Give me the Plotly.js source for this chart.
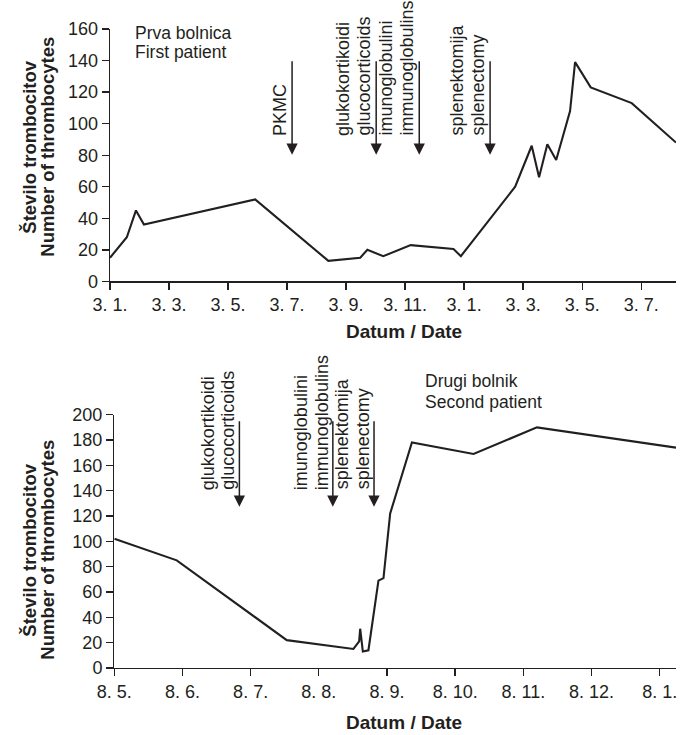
<!DOCTYPE html>
<html>
<head>
<meta charset="utf-8">
<script src="https://cdn.plot.ly/plotly-3.0.1.min.js"></script>
<style>html,body{margin:0;padding:0;background:#fff;}#chart{width:694px;height:735px;}</style>
</head>
<body>
<div id="chart"></div>
<script>
// ---- Data (x = months since first tick) ----
const topMonths = [0, 0.57, 0.88, 1.15, 4.92, 7.4, 8.48, 8.72, 9.26, 10.19, 11.64, 11.89, 13.73, 14.29, 14.54, 14.82, 15.12, 15.59, 15.76, 16.29, 17.68, 19.18];
const topCounts = [15, 28, 45, 36, 52, 13, 15, 20, 16, 23, 20.5, 16, 60, 86, 66, 87, 77, 108, 139, 123, 113, 88];
const topTickVals = [0, 2, 4, 6, 8, 10, 12, 14, 16, 18];
const topTickText = ['3. 1.', '3. 3.', '3. 5.', '3. 7.', '3. 9.', '3. 11.', '3. 1.', '3. 3.', '3. 5.', '3. 7.'];
const topEventMonths = [6.17, 9.02, 10.48, 12.88];
const topEventLabels = [['PKMC'], ['glukokortikoidi', 'glucocorticoids'], ['imunoglobulini', 'immunoglobulins'], ['splenektomija', 'splenectomy']];

const bottomMonths = [0, 0.916, 2.53, 3.508, 3.592, 3.607, 3.646, 3.728, 3.875, 3.949, 4.047, 4.366, 5.27, 6.2, 8.24];
const bottomCounts = [102, 85, 22, 15, 21, 31, 13, 14, 69, 71, 122, 178, 169, 190, 174];
const bottomTickVals = [0, 1, 2, 3, 4, 5, 6, 7, 8];
const bottomTickText = ['8. 5.', '8. 6.', '8. 7.', '8. 8.', '8. 9.', '8. 10.', '8. 11.', '8. 12.', '8. 1.'];
const bottomEventMonths = [1.835, 3.206, 3.81];
const bottomEventLabels = [['glukokortikoidi', 'glucocorticoids'], ['imunoglobulini', 'immunoglobulins'], ['splenektomija', 'splenectomy']];

const yTitleLines = ['Število trombocitov', 'Number of thrombocytes'];
const xTitle = 'Datum / Date';
const topNote = ['Prva bolnica', 'First patient'];
const bottomNote = ['Drugi bolnik', 'Second patient'];

// ---- Styling ----
const INK = '#231f20';
const FONT = 'Liberation Sans, Arial, Helvetica, sans-serif';

const traces = [
  {x: topMonths, y: topCounts, xaxis: 'x', yaxis: 'y', type: 'scatter', mode: 'lines',
   line: {color: INK, width: 2.1}, hoverinfo: 'skip'},
  {x: bottomMonths, y: bottomCounts, xaxis: 'x2', yaxis: 'y2', type: 'scatter', mode: 'lines',
   line: {color: INK, width: 2.1}, hoverinfo: 'skip'}
];

const axisCommon = {
  showline: true, linecolor: INK, linewidth: 1.3,
  ticks: 'outside', ticklen: 7, tickwidth: 1.3, tickcolor: INK,
  showgrid: false, zeroline: false, fixedrange: true,
  tickfont: {family: FONT, size: 18, color: INK}
};

const annotations = [];

function addEvents(months, labels, xref, yref, tailY, tipY, labelBase, gap) {
  months.forEach((m, i) => {
    annotations.push({x: m, y: tipY, ax: m, ay: tailY, xref: xref, yref: yref, axref: xref, ayref: yref,
      text: '', showarrow: true, arrowhead: 2, arrowsize: 1.5, arrowwidth: 1.5, arrowcolor: INK});
    const lines = labels[i];
    const n = lines.length;
    lines.forEach((t, j) => {
      annotations.push({x: m, y: labelBase, xref: xref, yref: yref, text: t, showarrow: false,
        textangle: -90, xanchor: 'center', yanchor: 'bottom', xshift: -gap - 21 * (n - 1 - j),
        font: {family: FONT, size: 18, color: INK}});
    });
  });
}

addEvents(topEventMonths, topEventLabels, 'x', 'y', 140.5, 80.3, 91, 12);
addEvents(bottomEventMonths, bottomEventLabels, 'x2', 'y2', 196, 127.3, 139.1, 11);

// notes
[[topNote, 0.0412, [0.9932, 0.9640]], [bottomNote, 0.5528, [0.4488, 0.4159]]].forEach(([lines, xp, ys]) => {
  lines.forEach((t, j) => annotations.push({x: xp, y: ys[j], xref: 'paper', yref: 'paper', text: t, showarrow: false,
    xanchor: 'left', yanchor: 'middle', font: {family: FONT, size: 17.5, color: INK}}));
});

// axis titles
[[0.8158], [0.1851]].forEach(([yc]) => {
  [-0.1414, -0.1096].forEach((xp, j) => annotations.push({x: xp, y: yc, xref: 'paper', yref: 'paper',
    text: '<b>' + yTitleLines[j] + '</b>', showarrow: false, textangle: -90, xanchor: 'center', yanchor: 'middle',
    font: {family: FONT, size: 18.5, color: INK}}));
});
[0.5263, -0.0856].forEach(yp => annotations.push({x: 0.5188, y: yp, xref: 'paper', yref: 'paper',
  text: '<b>' + xTitle + '</b>', showarrow: false, xanchor: 'center', yanchor: 'middle',
  font: {family: FONT, size: 19, color: INK}}));

const layout = {
  width: 694, height: 735,
  margin: {l: 110, r: 18.3, t: 29.3, b: 66.7},
  paper_bgcolor: '#fff', plot_bgcolor: '#fff',
  showlegend: false,
  font: {family: FONT, color: INK},
  xaxis: Object.assign({}, axisCommon, {anchor: 'y', domain: [0, 1], range: [0, 19.18],
    tickmode: 'array', tickvals: topTickVals, ticktext: topTickText}),
  yaxis: Object.assign({}, axisCommon, {anchor: 'x', domain: [0.605, 1], range: [0, 160],
    tickmode: 'array', tickvals: [0, 20, 40, 60, 80, 100, 120, 140, 160]}),
  xaxis2: Object.assign({}, axisCommon, {anchor: 'y2', domain: [0.0076, 1], range: [0, 8.24],
    tickmode: 'array', tickvals: bottomTickVals, ticktext: bottomTickText}),
  yaxis2: Object.assign({}, axisCommon, {anchor: 'x2', domain: [0, 0.3964], range: [0, 200],
    tickmode: 'array', tickvals: [0, 20, 40, 60, 80, 100, 120, 140, 160, 180, 200]}),
  annotations: annotations
};

Plotly.newPlot('chart', traces, layout, {staticPlot: true, displayModeBar: false});
</script>
</body>
</html>
